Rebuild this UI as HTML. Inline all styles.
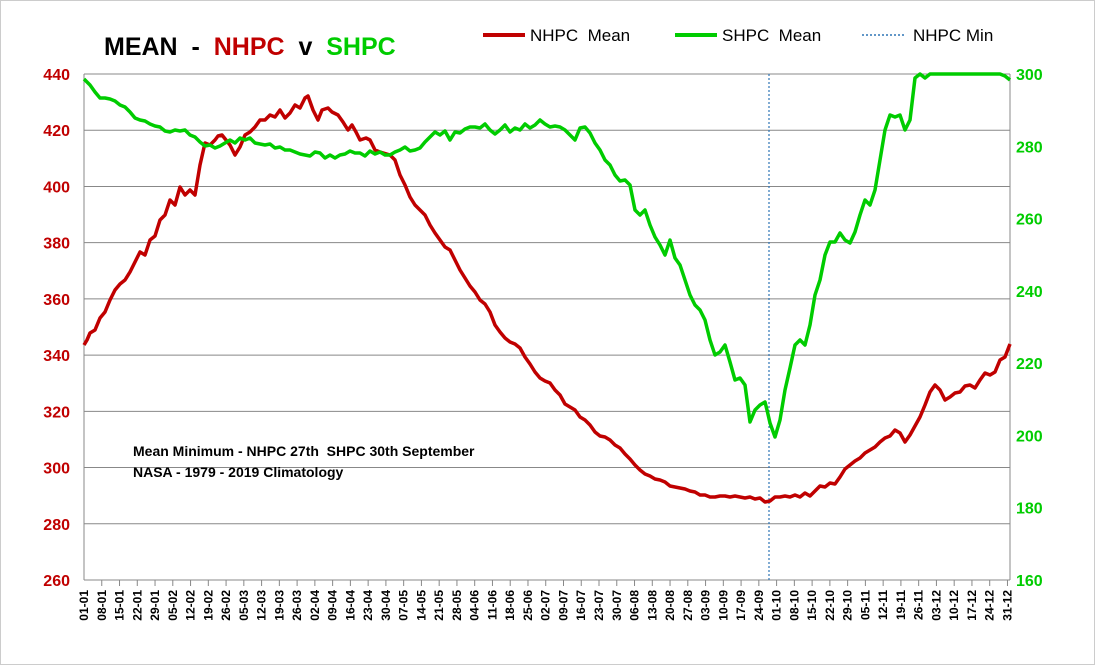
<!DOCTYPE html>
<html><head><meta charset="utf-8"><style>
body{margin:0;background:#fff}
svg{display:block;font-family:"Liberation Sans",sans-serif}
</style></head><body>
<svg id="s" width="1095" height="665" xmlns="http://www.w3.org/2000/svg">
<rect x="0.5" y="0.5" width="1094" height="664" fill="#fff" stroke="#ccc"/>
<g id="grid" stroke="#888" stroke-width="1"></g>
<line x1="84" y1="74" x2="84" y2="580" stroke="#888"/>
<line x1="1010" y1="74" x2="1010" y2="580" stroke="#888"/>
<line x1="769" y1="74" x2="769" y2="580" stroke="#2e75b6" stroke-width="1.2" stroke-dasharray="2,2"/>
<g id="lab"></g>
<text x="104" y="55" font-size="25" font-weight="bold" fill="#000" xml:space="preserve">MEAN  -  <tspan fill="#c00000">NHPC</tspan>  v  <tspan fill="#00cc00">SHPC</tspan></text>
<line x1="483" y1="35" x2="525" y2="35" stroke="#c00000" stroke-width="4"/>
<text x="530" y="41" font-size="17" xml:space="preserve">NHPC  Mean</text>
<line x1="675" y1="35" x2="717" y2="35" stroke="#00cc00" stroke-width="4"/>
<text x="722" y="41" font-size="17" xml:space="preserve">SHPC  Mean</text>
<line x1="862" y1="35" x2="905" y2="35" stroke="#2e75b6" stroke-width="1.5" stroke-dasharray="2,2"/>
<text x="913" y="41" font-size="17">NHPC Min</text>
<text x="133" y="456" font-size="14" font-weight="bold" xml:space="preserve">Mean Minimum - NHPC 27th  SHPC 30th September</text>
<text x="133" y="477" font-size="14" font-weight="bold">NASA - 1979 - 2019 Climatology</text>
<polyline fill="none" stroke="#c00000" stroke-width="3.5" stroke-linejoin="round" points="84,345 87,340 90,333 95,330 100,318 105,312 110,300 115,290 120,284 125,280 130,272 135,262 140,252 145,255 150,240 155,236 160,220 165,215 170,200 175,205 180,187 185,195 190,190 195,195 200,165 205,143 210,145 215,140 218,136 222,135 226,140 230,145 235,155 240,147 245,135 250,132 255,127 260,120 265,120 270,115 275,117 280,110 285,118 290,113 295,105 300,108 305,98 308,96 313,110 318,120 322,110 328,108 332,112 338,115 343,122 348,130 352,125 356,132 360,140 366,138 370,140 375,150 380,152 390,155 395,160 400,175 405,185 410,197 415,205 420,210 425,215 430,225 435,233 440,240 445,247 450,250 455,260 460,270 465,278 470,286 475,292 480,300 485,304 490,312 495,325 500,332 505,338 510,342 515,344 520,348 525,357 530,364 535,372 540,378 545,381 550,383 555,390 560,395 565,404 570,407 575,410 580,417 585,420 590,425 595,432 600,436 605,437 610,440 615,445 620,448 625,454 630,459 635,465 640,470 645,474 650,476 655,479 660,480 665,482 670,486 675,487 680,488 685,489 690,491 695,492 700,495 705,495 710,497 715,497 720,496 725,496 730,497 735,496 740,497 745,498 750,497 755,499 760,498 765,502 770,501 775,497 780,497 785,496 790,497 795,495 800,497 805,493 810,496 815,491 820,486 825,487 830,483 835,484 840,477 845,469 850,465 855,461 860,458 865,453 870,450 875,447 880,442 885,438 890,436 895,430 900,433 905,442 910,435 915,426 920,417 925,405 930,392 935,385 940,390 945,400 950,397 955,393 960,392 965,386 970,385 975,388 980,380 985,373 990,375 995,372 1000,360 1005,357 1010,344"/>
<polyline fill="none" stroke="#00cc00" stroke-width="3.5" stroke-linejoin="round" points="84,79 90,85 95,92 100,98 105,98 110,99 115,101 120,105 125,107 130,112 135,118 140,120 145,121 150,124 155,126 160,127 165,131 170,132 175,130 180,131 185,130 190,135 195,137 200,142 205,146 210,145 215,148 220,146 225,143 230,140 235,143 240,138 245,140 250,138 255,143 260,144 265,145 270,144 275,148 280,147 285,150 290,150 295,152 300,154 305,155 310,156 315,152 320,153 325,158 330,155 335,158 340,155 345,154 350,151 355,153 360,153 365,156 370,151 375,154 380,152 385,155 390,155 395,152 400,150 405,147 410,151 415,150 420,148 425,142 430,137 435,132 440,135 445,131 450,140 455,132 460,133 465,129 470,127 475,127 480,128 485,124 490,130 495,134 500,130 505,125 510,132 515,128 520,130 525,124 530,128 535,125 540,120 545,124 550,127 555,126 560,127 565,130 570,135 575,140 580,128 585,127 590,133 595,143 600,150 605,160 610,165 615,175 620,181 625,180 630,185 635,210 640,215 645,210 650,225 655,237 660,245 665,255 670,240 675,258 680,265 685,280 690,295 695,305 700,310 705,320 710,340 715,355 720,352 725,345 730,362 735,380 740,378 745,385 750,422 755,410 760,405 765,402 767,410 770,423 775,437 780,420 785,390 790,368 795,345 800,340 805,345 810,325 815,295 820,280 825,255 830,242 835,242 840,233 845,240 850,243 855,232 860,215 865,200 870,205 875,190 880,160 885,130 890,115 895,117 900,115 905,130 910,120 915,78 920,74 925,78 930,74 935,74 1000,74 1005,76 1010,80"/>
</svg>
<script>
var NS="http://www.w3.org/2000/svg",g=document.getElementById('grid'),l=document.getElementById('lab');
function el(p,t,a,txt){var e=document.createElementNS(NS,t);for(var k in a)e.setAttribute(k,a[k]);if(txt)e.textContent=txt;p.appendChild(e);return e;}
for(var i=0;i<=9;i++){var y=74+i*506/9;el(g,'line',{x1:84,x2:1010,y1:y,y2:y});
el(l,'text',{x:70,y:y+6,'text-anchor':'end','font-size':16,'font-weight':'bold',fill:'#c00000'},String(440-i*20));}
for(var i=0;i<=7;i++){var y=74+i*506/7;el(l,'text',{x:1016,y:y+6,'font-size':16,'font-weight':'bold',fill:'#00cc00'},String(300-i*20));}
var px=926/365;
for(var i=0;i<53;i++){var dt=new Date(2019,0,1+i*7),x=84+i*7*px;
if(i>0)el(g,'line',{x1:x,x2:x,y1:580,y2:586});
var s=('0'+dt.getDate()).slice(-2)+'-'+('0'+(dt.getMonth()+1)).slice(-2);
el(l,'text',{x:0,y:0,transform:'translate('+(x+4)+',590) rotate(-90)','text-anchor':'end','font-size':12,'font-weight':'bold'},s);}
</script>
</body></html>
